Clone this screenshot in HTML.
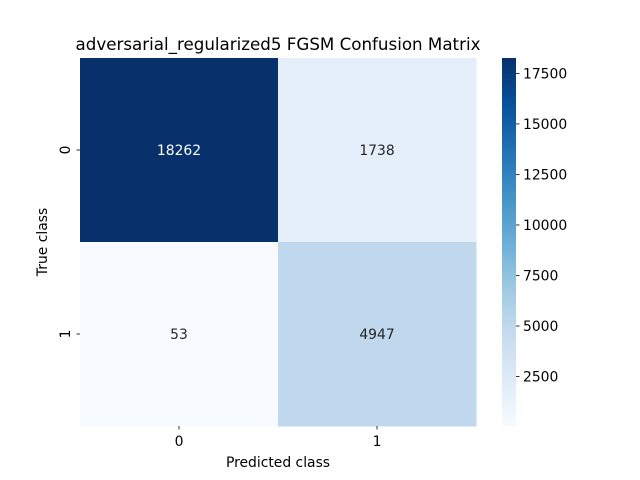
<!DOCTYPE html>
<html><head><meta charset="utf-8"><style>
body{margin:0;background:#fff;}
svg{display:block;font-family:"DejaVu Sans","Liberation Sans",sans-serif;}
</style></head><body>
<svg id="chart" width="640" height="480">
<defs><linearGradient id="cb" x1="0" y1="1" x2="0" y2="0">
<stop offset="0" stop-color="#f7fbff"/><stop offset="0.125" stop-color="#deebf7"/><stop offset="0.25" stop-color="#c6dbef"/><stop offset="0.375" stop-color="#9ecae1"/><stop offset="0.5" stop-color="#6baed6"/><stop offset="0.625" stop-color="#4292c6"/><stop offset="0.75" stop-color="#2171b5"/><stop offset="0.875" stop-color="#08519c"/><stop offset="1" stop-color="#08306b"/></linearGradient></defs>
<text x="278" y="50" font-size="16.7" text-anchor="middle" fill="#000">adversarial_regularized5 FGSM Confusion Matrix</text>
<g id="cells"></g>
<text x="278" y="467" font-size="13.9" text-anchor="middle">Predicted class</text>
<text x="0" y="0" font-size="13.9" text-anchor="middle" transform="translate(47,242) rotate(-90)">True class</text>
<rect x="502" y="58" width="14" height="368" fill="url(#cb)"/>
<g id="cbticks"></g>
</svg>
<script>
const classes=["0","1"];
const values=[[18262,1738],[53,4947]];
const cbTicks=[2500,5000,7500,10000,12500,15000,17500];
const L=80,T=58,W=396,H=368;
const vmin=Math.min(...values.flat()),vmax=Math.max(...values.flat());
const stops=["#f7fbff","#deebf7","#c6dbef","#9ecae1","#6baed6","#4292c6","#2171b5","#08519c","#08306b"];
function hex(c){return[1,3,5].map(i=>parseInt(c.substr(i,2),16));}
function cmap(v){let t=(v-vmin)/(vmax-vmin)*8;let i=Math.min(7,Math.floor(t)),f=t-i;let a=hex(stops[i]),b=hex(stops[i+1]);return"rgb("+a.map((x,k)=>Math.round(x+(b[k]-x)*f)).join(",")+")";}
const ns="http://www.w3.org/2000/svg";
const svg=document.getElementById('chart');
const g=document.getElementById('cells');
const n=classes.length,cw=W/n,ch=H/n;
function mk(tag,attrs,parent){const e=document.createElementNS(ns,tag);for(const k in attrs)e.setAttribute(k,attrs[k]);parent.appendChild(e);return e;}
values.forEach((row,r)=>row.forEach((v,c)=>{
 const rc=mk('rect',{x:L+c*cw,y:T+r*ch,width:cw+0.5,height:ch+0.5,fill:cmap(v)},g);
 
 
 const tx=mk('text',{x:L+(c+0.5)*cw,y:T+(r+0.5)*ch+5,'font-size':13.9,'text-anchor':'middle',fill:(v-vmin)/(vmax-vmin)>0.5?'#fff':'#262626'},g);
 tx.textContent=v;
 
 
}));
classes.forEach((cl,i)=>{
 const x=L+(i+0.5)*cw;
 mk('line',{x1:x,x2:x,y1:T+H,y2:T+H+3.5,stroke:'#000','stroke-width':0.8},svg);
 const t=mk('text',{x:x,y:T+H+20,'font-size':13.9,'text-anchor':'middle'},svg);
 t.textContent=cl;
 
 
 const y=T+(i+0.5)*ch;
 mk('line',{x1:L-3.5,x2:L,y1:y,y2:y,stroke:'#000','stroke-width':0.8},svg);
 const t2=mk('text',{x:0,y:0,'font-size':13.9,'text-anchor':'middle',transform:'translate('+(L-10)+','+y+') rotate(-90)'},svg);
 t2.textContent=cl;
 
 
});
const cg=document.getElementById('cbticks');
cbTicks.forEach(v=>{
 const y=T+H-(v-vmin)/(vmax-vmin)*H;
 mk('line',{x1:516,x2:519.5,y1:y,y2:y,stroke:'#000','stroke-width':0.8},cg);
 const t=mk('text',{x:523,y:y+5,'font-size':13.9},cg);
 t.textContent=v;
 
 
});
</script>
</body></html>
